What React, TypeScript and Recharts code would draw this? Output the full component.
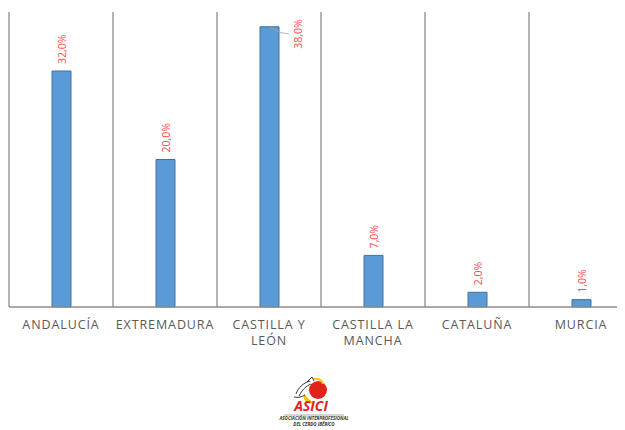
import { BarChart, Bar, XAxis, YAxis, CartesianGrid, LabelList } from 'recharts'

const regions = ['ANDALUCÍA', 'EXTREMADURA', 'CASTILLA Y\nLEÓN', 'CASTILLA LA\nMANCHA', 'CATALUÑA', 'MURCIA']
const shares = [32, 20, 38, 7, 2, 1]

const data = regions.map((region, i) => ({ region, share: shares[i] }))

const FONT = '"Open Sans", "DejaVu Sans", sans-serif'

function RegionTick({ x, y, payload }: any) {
  const lines = String(payload.value).split('\n')
  return (
    <text
      x={x}
      y={y}
      textAnchor="middle"
      fill="#595959"
      fontFamily={FONT}
      fontSize={12.5}
      letterSpacing={0.9}
    >
      {lines.map((line, i) => (
        <tspan key={i} x={x} dy={i === 0 ? 22 : 16}>
          {line}
        </tspan>
      ))}
    </text>
  )
}

function ShareLabel({ x, y, width, value }: any) {
  const text = Number(value).toFixed(1).replace('.', ',') + '%'
  const cx = x + width / 2
  // not enough room above the bar: move label to the right with a leader line
  if (y < 48) {
    const lx = x + width + 19
    const ly = y + 22
    return (
      <g>
        <polyline
          points={`${x + width * 0.55},${y + 1} ${x + width + 2},${y + 6} ${x + width + 10},${y + 7}`}
          fill="none"
          stroke="#a6a6a6"
          strokeWidth={0.8}
        />
        <text
          x={lx}
          y={ly}
          transform={`rotate(-90 ${lx} ${ly})`}
          dominantBaseline="central"
          fill="#ff4b4b"
          fontFamily={FONT}
          fontSize={10.5}
        >
          {text}
        </text>
      </g>
    )
  }
  const ty = y - 7
  return (
    <text
      x={cx}
      y={ty}
      transform={`rotate(-90 ${cx} ${ty})`}
      dominantBaseline="central"
      fill="#ff4b4b"
      fontFamily={FONT}
      fontSize={10.5}
    >
      {text}
    </text>
  )
}

function Logo() {
  return (
    <svg width={80} height={60} viewBox="0 0 80 60" style={{ display: 'block', margin: '0 auto' }}>
      <path d="M30 26 C28 34 34 38 42 36 C36 34 32 30 30 26 Z" fill="#f5c400" />
      <circle cx={44} cy={23} r={9} fill="#e2231a" />
      <path d="M40 12 C44 11 48 13 49 17" fill="none" stroke="#f5c400" strokeWidth={2} />
      <path
        d="M22 27 C24 21 29 16 36 14 M25 29 C28 23 32 19 37 17 M20 30 C24 31 28 30 31 28 M33 15 L38 10 L40 14"
        fill="none"
        stroke="#222"
        strokeWidth={0.9}
      />
      <text x={37} y={44} textAnchor="middle" fill="#e2231a" fontFamily={FONT} fontWeight={700} fontStyle="italic" fontSize={14}>
        ASICI
      </text>
      <line x1={10} y1={48} x2={70} y2={48} stroke="#555" strokeWidth={0.5} />
      <text x={40} y={53} textAnchor="middle" fill="#333" fontFamily={FONT} fontSize={4.5} fontWeight={700} fontStyle="italic">
        ASOCIACIÓN INTERPROFESIONAL
      </text>
      <text x={40} y={58.5} textAnchor="middle" fill="#333" fontFamily={FONT} fontSize={4.5} fontWeight={700} fontStyle="italic">
        DEL CERDO IBÉRICO
      </text>
    </svg>
  )
}

export default function App() {
  return (
    <div style={{ width: 617, overflow: 'hidden', background: '#fff' }}>
      <BarChart width={640} height={359} data={data} margin={{ top: 4, right: 15, bottom: 0, left: 1 }}>
        <CartesianGrid
          horizontal={false}
          stroke="#8c8c8c"
          strokeWidth={1.3}
          verticalCoordinatesGenerator={({ offset }: any) =>
            regions.map((_, i) => offset.left + (i * offset.width) / regions.length)
          }
        />
        <XAxis
          dataKey="region"
          interval={0}
          tickLine={false}
          tickSize={0}
          tickMargin={0}
          height={60}
          axisLine={{ stroke: '#8c8c8c', strokeWidth: 1.3 }}
          tick={<RegionTick />}
        />
        <YAxis hide domain={[0, 40]} />
        <Bar dataKey="share" fill="#5b9bd5" stroke="#41719c" strokeWidth={1} barSize={19} isAnimationActive={false}>
          <LabelList dataKey="share" content={<ShareLabel />} />
        </Bar>
      </BarChart>
      <div style={{ width: 617 }}>
        <div style={{ position: 'relative', left: -3 }}>
          <Logo />
        </div>
      </div>
    </div>
  )
}
